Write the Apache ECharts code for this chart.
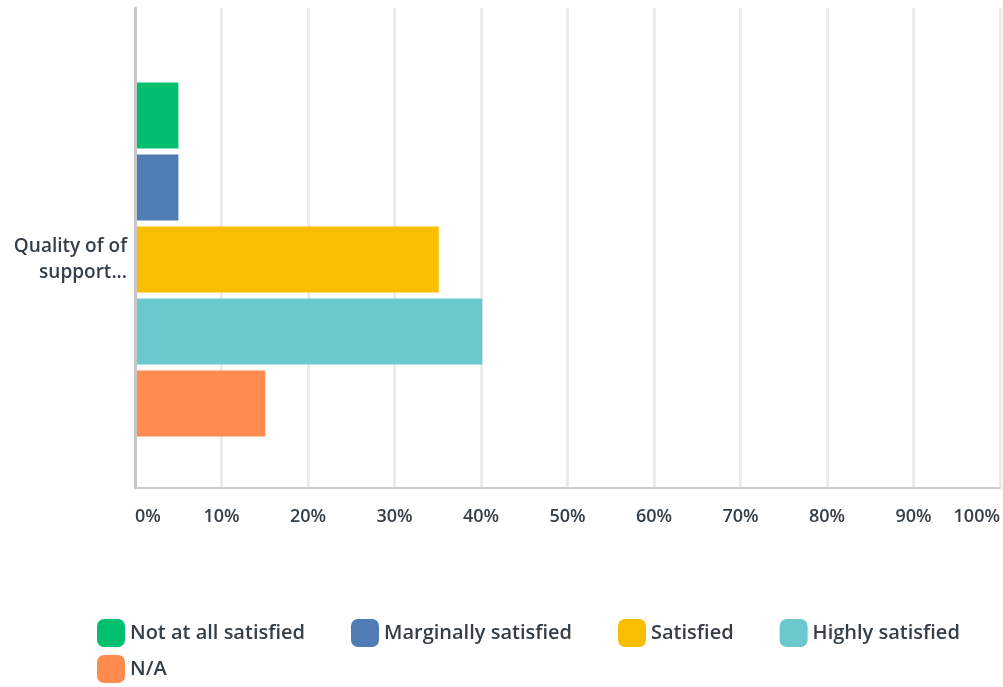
<!DOCTYPE html>
<html>
<head>
<meta charset="utf-8">
<script src="https://cdn.jsdelivr.net/npm/echarts@6/dist/echarts.min.js"></script>
<style>
  html, body { margin: 0; padding: 0; background: #fff; }
  #chart { width: 1003px; height: 687px; }
</style>
</head>
<body>
<div id="chart"></div>
<script>
// data
var categories = ['Quality of of\nsupport...'];
var seriesNames = ['Not at all satisfied', 'Marginally satisfied', 'Satisfied', 'Highly satisfied', 'N/A'];
var notAtAll = [5];
var marginally = [5];
var satisfied = [35];
var highly = [40];
var notApplicable = [15];
var colors = ['#00bf6f', '#507cb6', '#f9be00', '#6bc8cd', '#ff8b4f'];

var textColor = '#333e48';
var fontFamily = '"Open Sans", sans-serif';
var fontWeight = 600;

var chart = echarts.init(document.getElementById('chart'));

var values = [notAtAll, marginally, satisfied, highly, notApplicable];
var series = seriesNames.map(function (name, i) {
    return {
        name: name,
        type: 'bar',
        xAxisIndex: 1,
        yAxisIndex: 1,
        data: values[i],
        barWidth: 66,
        barGap: '9%',
        itemStyle: { color: colors[i] },
        emphasis: { disabled: true }
    };
});

var legendText = { fontSize: 20, color: textColor, fontFamily: fontFamily, fontWeight: fontWeight };

var option = {
    animation: false,
    color: colors,
    textStyle: { fontFamily: fontFamily, color: textColor },
    grid: [
        // axes + gridlines
        { left: 135, right: 0, top: 8, bottom: 199 },
        // bars (centred on the label)
        { left: 135, right: 0, top: 31, bottom: 199 }
    ],
    legend: [
        {
            data: seriesNames.slice(0, 4),
            left: 97, top: 619, padding: 0,
            itemWidth: 28, itemHeight: 28, itemGap: 46,
            icon: 'roundRect',
            textStyle: legendText
        },
        {
            data: seriesNames.slice(4),
            left: 97, top: 655, padding: 0,
            itemWidth: 28, itemHeight: 28, itemGap: 46,
            icon: 'roundRect',
            textStyle: legendText
        }
    ],
    xAxis: [
        {
            gridIndex: 0,
            type: 'value',
            min: 0, max: 100, interval: 10,
            axisLine: { show: true, lineStyle: { color: '#cccccc', width: 2 } },
            axisTick: { show: false },
            splitLine: { show: true, lineStyle: { color: '#ebebeb', width: 3 } },
            axisLabel: {
                formatter: '{value}%',
                fontSize: 18,
                fontWeight: fontWeight,
                color: textColor,
                fontFamily: fontFamily,
                margin: 20,
                alignMinLabel: 'left',
                alignMaxLabel: 'right'
            }
        },
        {
            gridIndex: 1,
            type: 'value',
            min: 0, max: 100,
            show: false
        }
    ],
    yAxis: [
        {
            gridIndex: 0,
            type: 'category',
            data: [''],
            z: 5,
            axisLine: { show: true, lineStyle: { color: '#c8c8c8', width: 3 } },
            axisTick: { show: false },
            axisLabel: { show: false }
        },
        {
            gridIndex: 1,
            type: 'category',
            data: categories,
            inverse: true,
            axisLine: { show: false },
            axisTick: { show: false },
            axisLabel: {
                fontSize: 19,
                fontWeight: fontWeight,
                lineHeight: 26,
                color: textColor,
                fontFamily: fontFamily,
                margin: 8,
                align: 'right'
            }
        }
    ],
    series: series
};

chart.setOption(option);
</script>
</body>
</html>
